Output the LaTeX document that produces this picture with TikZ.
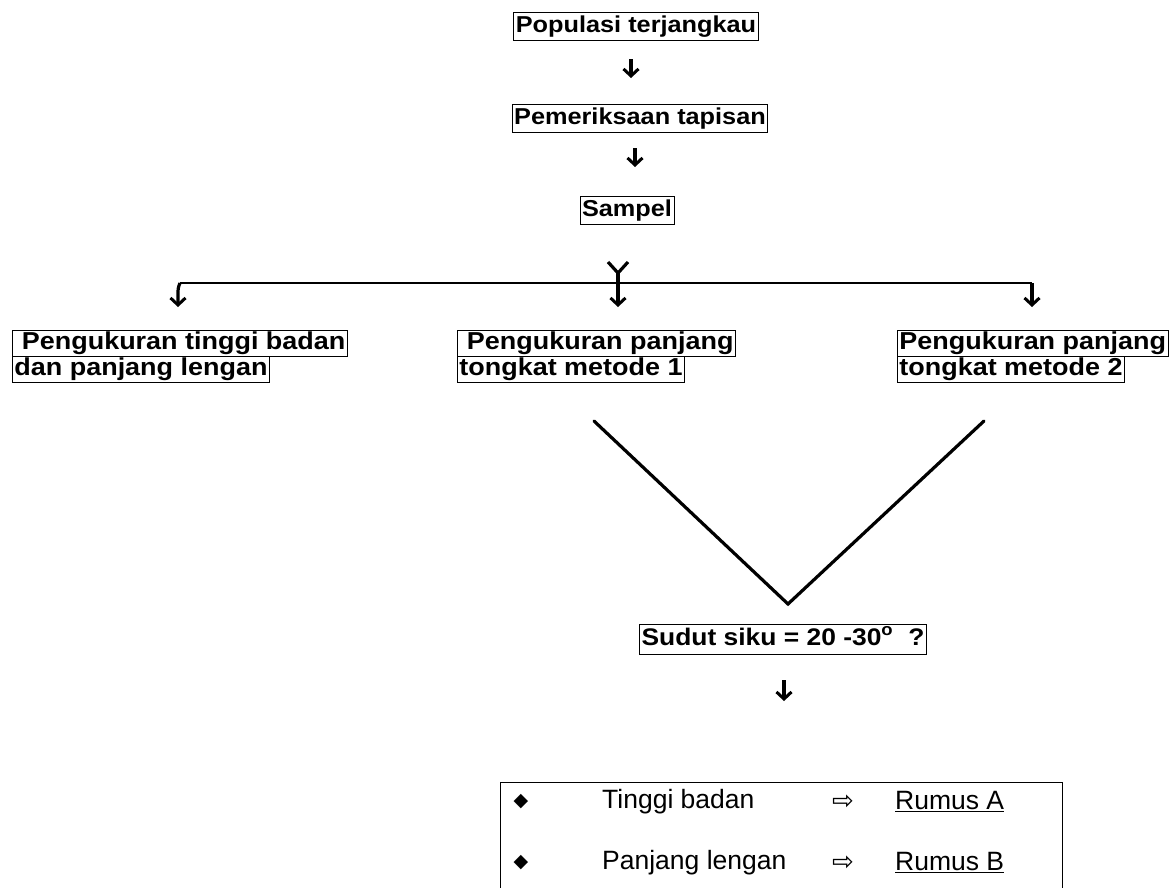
\documentclass[tikz,border=0pt]{standalone}
\usepackage{fontspec}
\setmainfont{Liberation Sans}
\newfontfamily\wideb[FakeStretch=1.1]{Liberation Sans Bold}
\newfontfamily\dejavu{DejaVu Sans}
\usetikzlibrary{arrows.meta}
\begin{document}
\begin{tikzpicture}[x=1pt,y=-1pt,
  topbox/.style={draw, line width=0.9pt, inner xsep=2pt, inner ysep=3pt,
    text height=17pt, text depth=5pt, font=\wideb\fontsize{23}{27}\selectfont},
  linebox/.style={draw, line width=0.9pt, inner xsep=2pt, inner ysep=1.5pt, anchor=west,
    text height=18pt, text depth=5pt, font=\wideb\fontsize{24.5}{28}\selectfont},
  arr/.style={line width=3.2pt, -{Straight Barb[length=7pt,width=15pt,line width=3pt]}},
  hline/.style={line width=2.8pt},
  vline/.style={line width=3.2pt, line cap=round, line join=miter},
  rowtext/.style={anchor=west, inner sep=0pt, font=\fontsize{26.5}{30}\selectfont},
  sym/.style={inner sep=0pt, font=\dejavu\fontsize{19}{22}\selectfont}
]
\useasboundingbox (0,0) rectangle (1176,887);

% top chain
\node[topbox] (b1) at (636,26) {Populasi terjangkau};
\node[topbox] (b2) at (640,118) {Pemeriksaan tapisan};
\node[topbox] (b3) at (627,210) {Sampel};

\coordinate (a1s) at (631,59);
\coordinate (a1e) at (631,78);
\draw[arr] (a1s) -- (a1e);
\coordinate (a2s) at (635,148);
\coordinate (a2e) at (635,167);
\draw[arr] (a2s) -- (a2e);

% branch
\coordinate (hm) at (618,283);
\coordinate (hl) at (180,283);
\coordinate (hr) at (1032,283);
\coordinate (ytop) at (618,273);
\coordinate (yl) at (608,262);
\coordinate (yr) at (628,262);
\draw[line width=3.2pt, line join=miter] (yl) -- (ytop) -- (yr);
\draw[line width=3.2pt] (ytop) -- (hm);
\draw[hline] (hl) -- (hr);

% lower boxes
\node[linebox] (l1a) at (12,343) {\ Pengukuran tinggi badan};
\node[linebox] (l1b) at (12,369) {dan panjang lengan};
\node[linebox] (m1a) at (457,343) {\ Pengukuran panjang};
\node[linebox] (m1b) at (457,369) {tongkat metode 1};
\node[linebox] (r1a) at (897,343) {Pengukuran panjang};
\node[linebox] (r1b) at (897,369) {tongkat metode 2};

\coordinate (hlb) at (178,307);
\coordinate (hmb) at (618,307);
\coordinate (hrb) at (1032,307);
\draw[arr, rounded corners=3pt] (hl) -- (178,288) -- (hlb);
\draw[arr] (hm) -- (hmb);
\draw[arr] (hr) -- (hrb);

% V
\coordinate (vL) at (594,421);
\coordinate (vB) at (788,604);
\coordinate (vR) at (984,421);
\draw[vline] (vL) -- (vB) -- (vR);

\node[topbox, inner ysep=4pt, font=\wideb\fontsize{24}{28}\selectfont] (sd) at (783,639) {Sudut siku = 20 -30\textsuperscript{o}\hspace{15pt}?};

\coordinate (a3s) at (784,680);
\coordinate (a3e) at (784,701);
\draw[arr] (a3s) -- (a3e);

% result box
\node[draw, line width=1.1pt, anchor=north west, minimum width=562pt, minimum height=130pt, inner sep=0pt] (res) at (500,782) {};
\node[sym] (d1) at (521,802) {◆};
\node[rowtext] (t1) at (602,802) {Tinggi badan};
\node[sym, font=\dejavu\fontsize{26}{30}\selectfont] (p1) at (843,802) {⇨};
\node[rowtext] (ra) at (895,802) {\underline{Rumus A}};
\node[sym] (d2) at (521,863) {◆};
\node[rowtext] (t2) at (602,863) {Panjang lengan};
\node[sym, font=\dejavu\fontsize{26}{30}\selectfont] (p2) at (843,863) {⇨};
\node[rowtext] (rb) at (895,863) {\underline{Rumus B}};
\end{tikzpicture}
\end{document}
